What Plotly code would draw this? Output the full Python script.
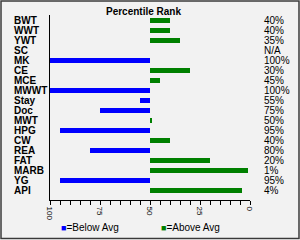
import plotly.graph_objects as go

categories = ["BWT", "WWT", "YWT", "SC", "MK", "CE", "MCE", "MWWT", "Stay", "Doc",
              "MWT", "HPG", "CW", "REA", "FAT", "MARB", "YG", "API"]
ranks = [40, 40, 35, None, 100, 30, 45, 100, 55, 75, 49, 95, 40, 80, 20, 1, 95, 4]
rank_labels = ["40%", "40%", "35%", "N/A", "100%", "30%", "45%", "100%", "55%", "75%",
               "50%", "95%", "40%", "80%", "20%", "1%", "95%", "4%"]
avg = 50
x_ticks = [0, 25, 50, 75, 100]

BLUE = "#0000FF"
GREEN = "#008000"
BG = "#F2F2F2"
FONT = "Liberation Sans"

below = [(r - avg) if (r is not None and r > avg) else None for r in ranks]
above = [(r - avg) if (r is not None and r < avg) else None for r in ranks]

fig = go.Figure()
fig.add_trace(go.Bar(y=categories, x=below, base=avg, orientation="h", width=0.5,
                     marker=dict(color=BLUE, line=dict(width=0)), name="=Below Avg",
                     showlegend=False))
fig.add_trace(go.Bar(y=categories, x=above, base=avg, orientation="h", width=0.5,
                     marker=dict(color=GREEN, line=dict(width=0)), name="=Above Avg",
                     showlegend=False))

W, H = 300, 240
L, R, T, B = 50, 50, 15, 40
PW, PH = W - L - R, H - T - B


def px_x(p):
    return (p - L) / PW


def px_y(p):
    return (H - B - p) / PH


ann = []
ann.append(dict(text="<b>Percentile Rank</b>", xref="paper", yref="paper",
                x=px_x(143.5), y=px_y(11), xanchor="center", yanchor="middle",
                showarrow=False, font=dict(family=FONT, size=10, color="#000")))
for c, lab in zip(categories, rank_labels):
    ann.append(dict(text="<b>%s</b>" % c, xref="paper", yref="y", x=px_x(12), y=c,
                    xanchor="left", yanchor="middle", showarrow=False,
                    font=dict(family=FONT, size=10, color="#000")))
    ann.append(dict(text=lab, xref="paper", yref="y", x=px_x(262), y=c,
                    xanchor="left", yanchor="middle", showarrow=False,
                    font=dict(family=FONT, size=10, color="#000")))
ann.append(dict(text="<span style='color:%s;font-size:9px'>■</span>=Below Avg" % BLUE,
                xref="paper", yref="paper", x=px_x(59), y=px_y(227), xanchor="left",
                yanchor="middle", showarrow=False, font=dict(family=FONT, size=10, color="#000")))
ann.append(dict(text="<span style='color:%s;font-size:9px'>■</span>=Above Avg" % GREEN,
                xref="paper", yref="paper", x=px_x(159), y=px_y(227), xanchor="left",
                yanchor="middle", showarrow=False, font=dict(family=FONT, size=10, color="#000")))

fig.update_layout(
    width=W, height=H,
    margin=dict(l=L, r=R, t=T, b=B, pad=0),
    paper_bgcolor="white",
    plot_bgcolor=BG,
    barmode="overlay",
    showlegend=False,
    annotations=ann,
    shapes=[dict(type="rect", xref="paper", yref="paper",
                 x0=px_x(1), x1=px_x(299), y0=px_y(238.5), y1=px_y(1),
                 line=dict(color="#3a3a3a", width=1.5), fillcolor=BG, layer="below")],
    xaxis=dict(range=[100, 0], tickvals=x_ticks, ticks="outside", ticklen=4,
               tickcolor="#000", tickangle=90, showline=True, linecolor="#000",
               linewidth=1, showgrid=False, zeroline=False,
               tickfont=dict(family=FONT, size=8, color="#000"),
               minor=dict(dtick=5, tick0=0, ticks="outside", ticklen=4, tickcolor="#000",
                          showgrid=False)),
    yaxis=dict(type="category", range=[17.95, -0.55], showticklabels=False, ticks="",
               showline=True, linecolor="#000", linewidth=1, showgrid=False,
               zeroline=False),
)

fig.write_html("out.html")
